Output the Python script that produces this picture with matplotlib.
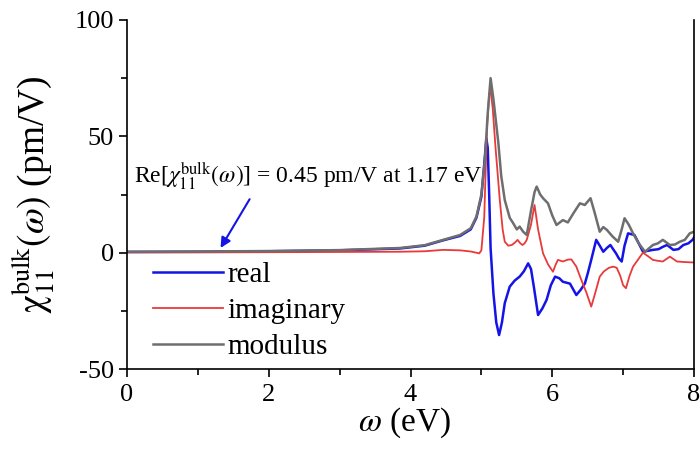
import matplotlib
matplotlib.use("Agg")
import matplotlib.pyplot as plt
from matplotlib.ticker import MultipleLocator

plt.rcParams['font.family'] = ['Liberation Serif', 'DejaVu Serif']
plt.rcParams['mathtext.fontset'] = 'stix'
plt.rcParams['axes.unicode_minus'] = False

# photon energy (eV) and values (pm/V)
real_x = [0.0, 1.0, 1.17, 2.0, 3.0, 3.85, 4.2, 4.46, 4.7, 4.85, 4.93, 5.0, 5.04, 5.07, 5.09,
          5.11, 5.13, 5.17, 5.21, 5.25, 5.29, 5.33, 5.40, 5.47, 5.54, 5.60, 5.66, 5.70,
          5.74, 5.80, 5.86, 5.92, 5.98, 6.04, 6.10, 6.15, 6.25, 6.34, 6.40, 6.46, 6.50,
          6.55, 6.62, 6.67, 6.72, 6.77, 6.82, 6.87, 6.90, 6.94, 6.98, 7.02, 7.07, 7.16,
          7.22, 7.28, 7.35, 7.42, 7.50, 7.56, 7.62, 7.71, 7.78, 7.85, 7.92, 7.98, 8.0]
real_y = [0.3, 0.4, 0.45, 0.6, 1.0, 1.8, 3.0, 5.3, 7.2, 10.0, 15.0, 24.0, 38.0, 49.0, 45.0,
          25.0, 2.0, -17.5, -30.0, -35.4, -30.0, -21.7, -14.6, -12.0, -10.3, -8.0, -4.6, -7.0,
          -14.6, -26.8, -24.0, -20.3, -14.0, -10.3, -11.0, -12.5, -13.3, -18.2, -16.0, -13.3, -9.0,
          -3.1, 5.5, 3.0, 0.4, 2.0, 3.3, 1.0, -0.3, -2.5, -3.8, 3.0, 8.3, 7.6,
          4.0, 0.4, 0.8, 1.2, 1.5, 2.5, 3.3, 1.2, 1.5, 3.3, 4.0, 5.5, 6.5]

imag_x = [0.0, 1.0, 2.0, 3.0, 3.85, 4.2, 4.46, 4.7, 4.85, 4.97, 5.0, 5.04, 5.08, 5.11,
          5.13, 5.16, 5.20, 5.26, 5.30, 5.33, 5.38, 5.43, 5.48, 5.51, 5.55, 5.58, 5.61,
          5.64, 5.70, 5.75, 5.80, 5.87, 5.94, 6.01, 6.05, 6.08, 6.15, 6.22, 6.27, 6.34,
          6.41, 6.48, 6.55, 6.60, 6.67, 6.73, 6.80, 6.86, 6.91, 6.96, 7.00, 7.04, 7.09,
          7.14, 7.21, 7.28, 7.35, 7.42, 7.49, 7.56, 7.66, 7.76, 7.85, 7.98, 8.0]
imag_y = [0.1, 0.1, 0.2, 0.3, 0.4, 0.6, 1.2, 1.0, 0.5, -0.3, 1.0, 15.0, 54.0, 68.0,
          70.0, 62.0, 45.0, 22.6, 10.0, 4.7, 3.0, 3.3, 4.5, 5.5, 4.0, 3.3, 4.0,
          5.5, 12.0, 20.5, 10.0, -0.3, -5.0, -8.2, -5.0, -3.1, -3.8, -3.0, -2.9, -6.0,
          -11.7, -17.0, -23.2, -18.0, -10.3, -8.0, -6.5, -6.0, -6.5, -10.0, -14.0, -15.3, -10.0,
          -6.0, -3.0, 0.0, -1.5, -3.1, -3.5, -3.8, -1.7, -3.8, -4.0, -4.2, -4.2]

mod_x = [0.0, 1.0, 2.0, 3.0, 3.85, 4.2, 4.46, 4.70, 4.85, 4.93, 5.0, 5.05, 5.09, 5.13,
         5.17, 5.24, 5.28, 5.33, 5.40, 5.45, 5.50, 5.54, 5.59, 5.64, 5.70, 5.75, 5.78,
         5.83, 5.87, 5.94, 6.00, 6.06, 6.15, 6.22, 6.30, 6.39, 6.46, 6.54, 6.60, 6.67,
         6.72, 6.77, 6.85, 6.93, 6.98, 7.02, 7.08, 7.14, 7.22, 7.31, 7.37, 7.42, 7.49,
         7.56, 7.66, 7.73, 7.80, 7.87, 7.94, 8.0]
mod_y = [0.4, 0.5, 0.7, 1.1, 2.0, 3.2, 5.5, 7.6, 10.5, 15.5, 25.0, 40.0, 60.0, 75.0,
         66.0, 47.0, 33.0, 22.6, 15.0, 12.6, 10.0, 11.2, 9.0, 7.6, 18.0, 26.0, 28.4,
         25.0, 23.4, 21.2, 16.0, 11.9, 14.0, 13.0, 17.0, 21.2, 20.5, 23.4, 17.0, 9.0,
         11.0, 9.8, 7.0, 4.7, 10.0, 14.8, 12.0, 8.3, 4.0, 0.4, 2.0, 3.3, 4.0,
         5.5, 3.3, 3.5, 4.7, 5.5, 8.3, 9.0]

fig = plt.figure(figsize=(7.0, 4.53), dpi=100)
ax = fig.add_axes([127/700, 1 - 369/453, (694 - 127)/700, (369 - 20)/453])

ax.plot(real_x, real_y, color='#1414e6', lw=1.8, label='real')
ax.plot(imag_x, imag_y, color='#e83a3a', lw=1.3, label='imaginary')
ax.plot(mod_x, mod_y, color='#6e6e6e', lw=1.8, label='modulus')

ax.set_xlim(0, 8)
ax.set_ylim(-50, 100)
ax.xaxis.set_major_locator(MultipleLocator(2))
ax.xaxis.set_minor_locator(MultipleLocator(1))
ax.yaxis.set_major_locator(MultipleLocator(50))
ax.yaxis.set_minor_locator(MultipleLocator(25))
ax.tick_params(which='both', direction='out', top=False, right=False, labelsize=19, width=1.2)
ax.tick_params(which='major', length=6)
ax.tick_params(which='minor', length=4)
ax.tick_params(axis='x', pad=5)
ax.spines['top'].set_visible(False)
for s in ['left', 'bottom', 'right']:
    ax.spines[s].set_linewidth(1.2)

ax.set_xlabel(r'$\omega$ (eV)', fontsize=24)
ax.xaxis.set_label_coords(0.49, (369 - 406) / 349)
ax.set_ylabel(r'$\mathrm{\chi}_{11}^{\mathrm{bulk}}(\omega)$ (pm/V)', fontsize=27)
ax.yaxis.set_label_coords((57 - 127) / 567, 0.5)

ax.text(0.1, 30, r'Re[$\chi_{11}^{\mathrm{bulk}}(\omega)$] = 0.45 pm/V at 1.17 eV',
        fontsize=17, ha='left', va='baseline')
ax.annotate('', xy=(1.3, 1.0), xytext=(1.75, 24),
            arrowprops=dict(arrowstyle='-|>', color='#1414e6', lw=1.5, mutation_scale=15))

ax.legend(loc='upper left', bbox_to_anchor=((153 - 127) / 567, (369 - 262) / 349),
          frameon=False, fontsize=21, borderaxespad=0, borderpad=0,
          handlelength=2.4, handletextpad=0.15, labelspacing=0.32)

fig.savefig('out.png', dpi=100)
